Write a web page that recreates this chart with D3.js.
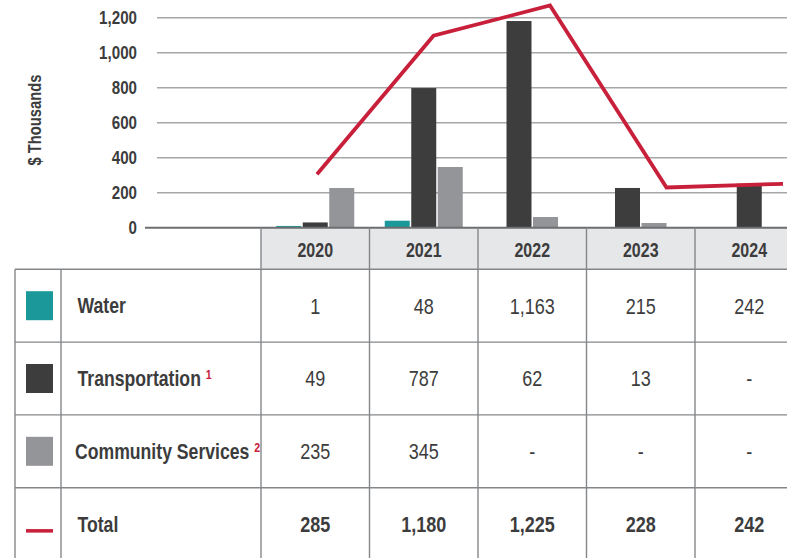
<!DOCTYPE html>
<html lang="en">
<head>
    <meta charset="UTF-8">
    <title>Capital spending by service area, 2020-2024</title>
    <script src="https://d3js.org/d3.v7.min.js"></script>
    <style>
        body { margin: 0; background: #fff; }
        text { font-family: "Liberation Sans", Arial, sans-serif; fill: #3c3c3d; }
    </style>
</head>
<body>
    <svg width="787" height="558"></svg>
    <script>
        const width = 787, height = 558;

        // data
        const years = ["2020", "2021", "2022", "2023", "2024"];
        const yTicks = [0, 200, 400, 600, 800, 1000, 1200];

        // bar heights as drawn (0 = no bar)
        const barWater = [10, 40, 0, 0, 0];
        const barTransportation = [30, 798, 1181, 227, 251];
        const barCommunity = [227, 347, 61, 27, 0];
        const lineTotal = [305, 1097, 1270, 230, 251];

        // table values
        const rowLabels = ["Water", "Transportation", "Community Services", "Total"];
        const rowNotes = ["", "1", "2", ""];
        const tableWater = ["1", "48", "1,163", "215", "242"];
        const tableTransportation = ["49", "787", "62", "13", "-"];
        const tableCommunity = ["235", "345", "-", "-", "-"];
        const tableTotal = ["285", "1,180", "1,225", "228", "242"];

        const colors = ["#1b999a", "#3d3d3d", "#939598"];
        const red = "#c8203a";
        const squeeze = 0.82; // condensed look

        const svg = d3.select("svg");

        // put a text at x, squeezed horizontally
        function narrowAt(sel, fx) {
            sel.attr("transform", (d, i) => `translate(${fx(d, i)},0) scale(${squeeze},1)`)
               .attr("x", 0);
        }

        // scales
        const x = d3.scaleBand().domain(years).range([261, 261 + 5 * 108.5]);
        const xLine = d3.scalePoint().domain(years).range([317, 783]);
        const y = d3.scaleLinear().domain([0, 1200]).range([227.7, 17.7]);

        // gridlines
        svg.append("g")
            .selectAll("line")
            .data(yTicks.filter(d => d > 0))
            .join("line")
            .attr("x1", 157).attr("x2", width)
            .attr("y1", d => y(d)).attr("y2", d => y(d))
            .attr("stroke", "#a4a6a8")
            .attr("stroke-width", 1.5);

        // y axis labels
        const yAxis = svg.append("g")
            .attr("transform", "translate(137,0)")
            .call(d3.axisLeft(y).tickValues(yTicks).tickSize(0).tickPadding(0).tickFormat(d3.format(",")));
        yAxis.select(".domain").remove();
        yAxis.selectAll("text")
            .attr("x", 0)
            .attr("transform", `scale(${squeeze},1)`)
            .attr("font-size", 18.5)
            .attr("font-weight", "bold")
            .style("font-family", "\"Liberation Sans\", Arial, sans-serif")
            .attr("fill", "#3c3c3d");

        svg.append("text")
            .attr("transform", `translate(41,120) rotate(-90) scale(${squeeze},1)`)
            .attr("text-anchor", "middle")
            .attr("font-size", 18)
            .attr("font-weight", "bold")
            .text("$ Thousands");

        // header background
        svg.append("rect")
            .attr("x", x.range()[0]).attr("y", y(0))
            .attr("width", x.range()[1] - x.range()[0])
            .attr("height", 269.3 - y(0))
            .attr("fill", "#e6e7e8");

        // bars: only non-zero bars drawn, group centred in its year
        const barW = 25, barStep = 26.5;
        const groups = years.map((yr, i) => {
            const vals = [barWater[i], barTransportation[i], barCommunity[i]]
                .map((v, k) => ({ v, k }))
                .filter(d => d.v > 0);
            const start = x(yr) + x.bandwidth() / 2 - (vals.length * barStep - (barStep - barW)) / 2;
            return vals.map((d, j) => ({ x: start + j * barStep, v: d.v, k: d.k }));
        }).flat();

        svg.append("g")
            .selectAll("rect")
            .data(groups)
            .join("rect")
            .attr("x", d => d.x)
            .attr("y", d => y(d.v))
            .attr("width", barW)
            .attr("height", d => y(0) - y(d.v))
            .attr("fill", d => colors[d.k]);

        // zero line
        svg.append("line")
            .attr("x1", 145).attr("x2", width)
            .attr("y1", y(0)).attr("y2", y(0))
            .attr("stroke", "#6d6e70")
            .attr("stroke-width", 2);

        // total line
        svg.append("path")
            .datum(lineTotal)
            .attr("d", d3.line().x((d, i) => xLine(years[i])).y(d => y(d)))
            .attr("fill", "none")
            .attr("stroke", red)
            .attr("stroke-width", 3.8)
            .attr("stroke-linejoin", "miter");

        // table
        const rowTop = 269.3, rowH = 72.8;
        const tableValues = [tableWater, tableTransportation, tableCommunity, tableTotal];
        const gridColor = "#84878a";
        const tbl = svg.append("g");

        // horizontal lines
        tbl.selectAll("line.h")
            .data(d3.range(0, 5))
            .join("line")
            .attr("class", "h")
            .attr("x1", 15).attr("x2", width)
            .attr("y1", i => rowTop + i * rowH).attr("y2", i => rowTop + i * rowH)
            .attr("stroke", gridColor).attr("stroke-width", 1.4);

        // vertical lines
        const vx = [15, 61].concat(years.map(d => x(d)));
        tbl.selectAll("line.v")
            .data(vx)
            .join("line")
            .attr("class", "v")
            .attr("x1", d => d).attr("x2", d => d)
            .attr("y1", d => d < 200 ? rowTop : y(0)).attr("y2", height)
            .attr("stroke", gridColor).attr("stroke-width", 1.4);

        // header text
        tbl.selectAll("text.hdr")
            .data(years)
            .join("text")
            .attr("class", "hdr")
            .attr("y", 250)
            .attr("dy", "0.36em")
            .attr("text-anchor", "middle")
            .attr("font-size", 19.5)
            .attr("font-weight", "bold")
            .text(d => d)
            .call(narrowAt, d => x(d) + x.bandwidth() / 2);

        rowLabels.forEach((lab, r) => {
            const cy = rowTop + r * rowH + rowH / 2;
            if (r < 3) {
                tbl.append("rect")
                    .attr("x", 26).attr("y", cy - 14.5)
                    .attr("width", 27).attr("height", 29)
                    .attr("fill", colors[r]);
            } else {
                tbl.append("rect")
                    .attr("x", 26).attr("y", cy + 5)
                    .attr("width", 27).attr("height", 3.5)
                    .attr("fill", red);
            }
            const t = tbl.append("text")
                .attr("y", cy)
                .attr("dy", "0.36em")
                .attr("font-size", 21.5)
                .attr("font-weight", "bold")
                .text(lab)
                .call(narrowAt, () => r === 2 ? 75 : 77.5);
            if (rowNotes[r]) {
                t.append("tspan")
                    .attr("dx", 6)
                    .attr("dy", "-0.55em")
                    .attr("font-size", 13)
                    .attr("fill", red)
                    .text(rowNotes[r]);
            }
            tbl.selectAll(null)
                .data(tableValues[r])
                .join("text")
                .attr("y", cy)
                .attr("dy", "0.36em")
                .attr("text-anchor", "middle")
                .attr("font-size", 22)
                .attr("font-weight", r === 3 ? "bold" : "normal")
                .text(d => d)
                .call(narrowAt, (d, i) => x(years[i]) + x.bandwidth() / 2);
        });
    </script>
</body>
</html>
